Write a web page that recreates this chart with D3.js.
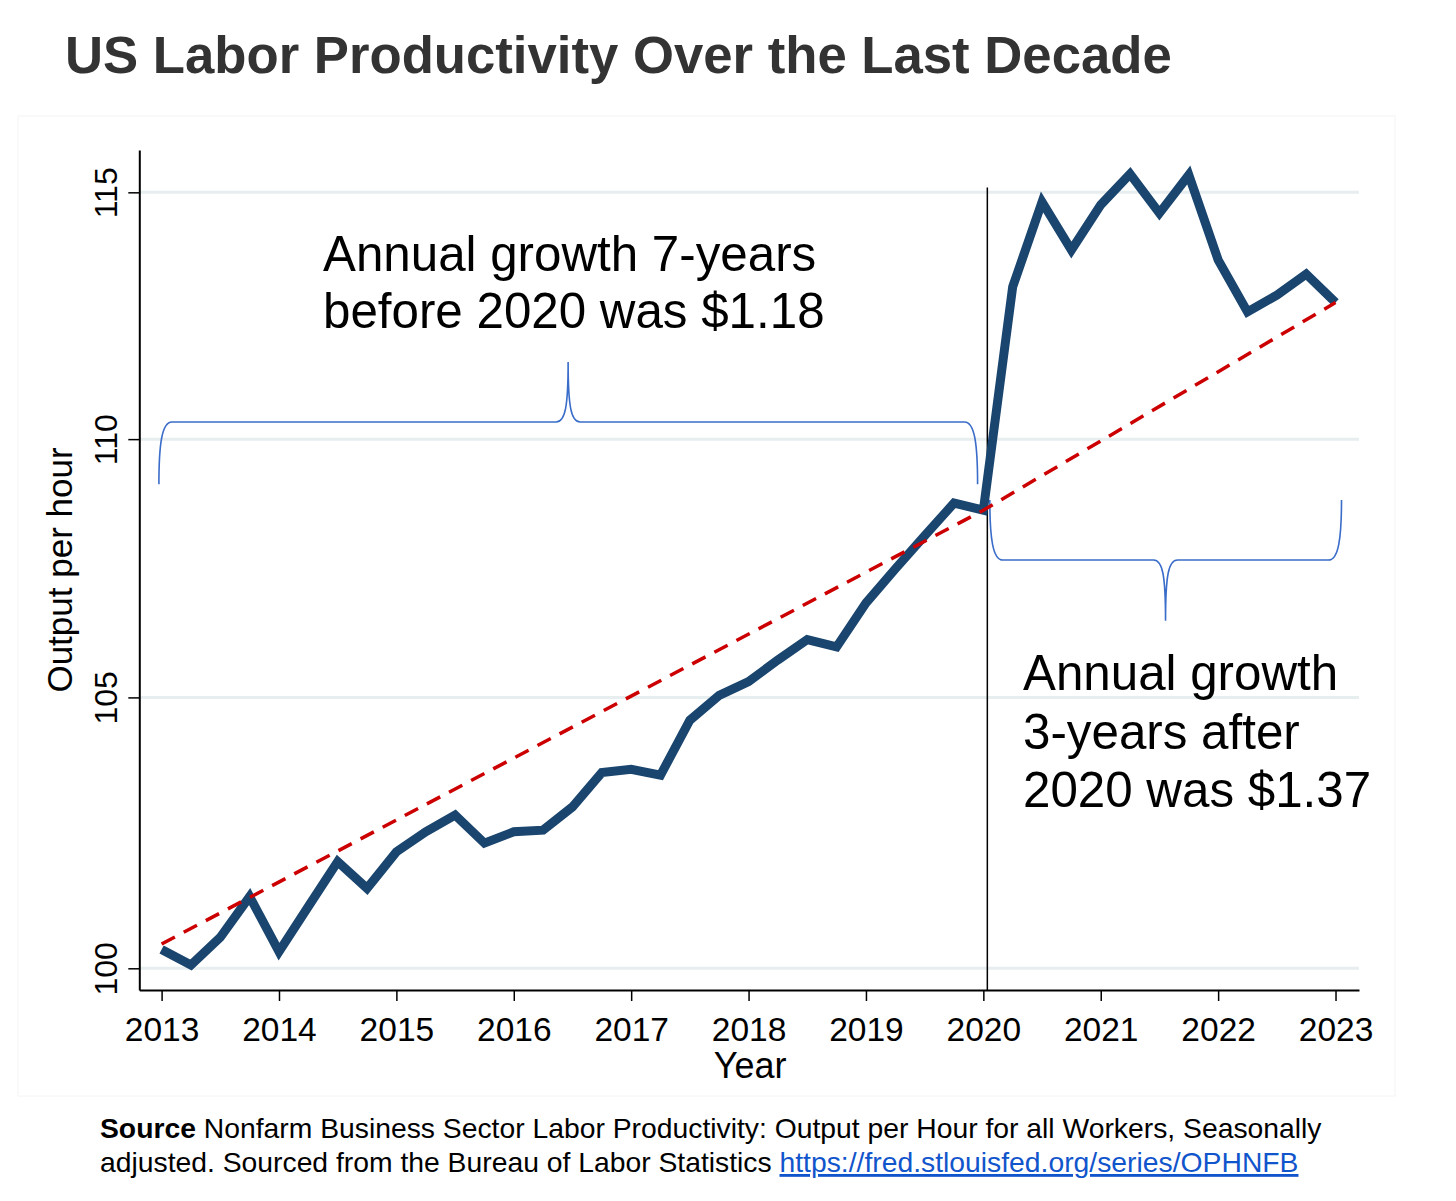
<!DOCTYPE html>
<html>
<head>
<meta charset="utf-8">
<script src="https://cdn.jsdelivr.net/npm/d3@7"></script>
<style>
  body { margin: 0; background: #fff; }
  svg { display: block; font-family: Arial, "Liberation Sans", sans-serif; }
</style>
</head>
<body>
<div id="chart"></div>
<script>
// quarterly output per hour, 2013 Q1 .. 2023 Q1
var quarters = d3.range(41).map(function(i) { return 2013 + i * 0.25 })
var productivity = [
  100.34, 100.06, 100.56, 101.30,
  100.30, 101.12, 101.94, 101.45,
  102.12, 102.49, 102.80, 102.28,
  102.49, 102.52, 102.95, 103.59,
  103.65, 103.54, 104.57, 105.04,
  105.30, 105.71, 106.10, 105.96,
  106.80, 107.46, 108.10, 108.74,
  108.60, 113.06, 114.80, 113.81,
  114.74, 115.38, 114.57, 115.36,
  113.61, 112.55, 112.89, 113.32,
  112.74
]
// trend segments drawn between 2013, 2020 and 2023
var trendYears = [2013, 2020, 2023]
var trendValues = [100.44, 108.60, 112.74]

var yearTicks = d3.range(2013, 2024)
var valueTicks = [100, 105, 110, 115]

var width = 1456, height = 1201

var svg = d3.select('#chart').append('svg')
  .attr('width', width)
  .attr('height', height)

// faint graph region border
svg.append('rect')
  .attr('x', 18).attr('y', 116)
  .attr('width', 1377).attr('height', 980)
  .attr('fill', 'none')
  .attr('stroke', '#f4f4f4')
  .attr('stroke-width', 1)

// SCALES (log y)
var x = d3.scaleLinear().domain([2012.81, 2023.2]).range([139.3, 1359])
var y = d3.scaleLog().domain([99.61, 115.88]).range([990, 150])

// TITLE
svg.append('text')
  .attr('x', 65).attr('y', 73)
  .attr('font-size', 52.7)
  .attr('font-weight', 'bold')
  .attr('fill', '#333333')
  .text('US Labor Productivity Over the Last Decade')

// GRIDLINES
svg.append('g')
  .selectAll('line')
  .data(valueTicks)
  .enter().append('line')
  .attr('x1', x.range()[0]).attr('x2', x.range()[1])
  .attr('y1', function(d) { return y(d) })
  .attr('y2', function(d) { return y(d) })
  .attr('stroke', '#e6eef0')
  .attr('stroke-width', 3)

// X-AXIS
var xAxis = svg.append('g')
  .attr('transform', 'translate(0,990)')
  .call(d3.axisBottom(x).tickValues(yearTicks).tickFormat(d3.format('d')).tickSize(11).tickSizeOuter(0))
xAxis.select('.domain').attr('stroke', '#000').attr('stroke-width', 2)
xAxis.selectAll('.tick line').attr('stroke', '#000').attr('stroke-width', 1.5)
xAxis.selectAll('.tick text')
  .attr('font-size', 33.5)
  .attr('font-family', 'Arial, "Liberation Sans", sans-serif')
  .attr('fill', '#000')
  .attr('dy', '0.71em')
  .attr('y', 27)

// Y-AXIS
var yAxis = svg.append('g')
  .attr('transform', 'translate(139.3,0)')
  .call(d3.axisLeft(y).tickValues(valueTicks).tickFormat(d3.format('d')).tickSize(11).tickSizeOuter(0))
yAxis.select('.domain').attr('stroke', '#000').attr('stroke-width', 2)
yAxis.selectAll('.tick line').attr('stroke', '#000').attr('stroke-width', 1.5)
yAxis.selectAll('.tick text')
  .attr('font-size', 32)
  .attr('font-family', 'Arial, "Liberation Sans", sans-serif')
  .attr('fill', '#000')
  .attr('x', null).attr('dy', null)
  .attr('text-anchor', 'middle')
  .attr('transform', 'translate(-22,0) rotate(-90)')

// AXIS TITLES
svg.append('text')
  .attr('x', (x.range()[0] + x.range()[1]) / 2 + 1)
  .attr('y', 1078)
  .attr('text-anchor', 'middle')
  .attr('font-size', 36)
  .text('Year')

svg.append('text')
  .attr('transform', 'translate(72,570) rotate(-90)')
  .attr('text-anchor', 'middle')
  .attr('font-size', 35)
  .text('Output per hour')

// VERTICAL 2020 MARKER
svg.append('line')
  .attr('x1', x(2020.034)).attr('x2', x(2020.034))
  .attr('y1', y(115.1)).attr('y2', 990)
  .attr('stroke', '#000')
  .attr('stroke-width', 1.5)

// BRACES
function brace(x0, x1, xt, yb, ye, yt) {
  var dir = yt < yb ? -1 : 1
  var p = d3.path()
  p.moveTo(x0, ye)
  p.bezierCurveTo(x0, yb - dir * 22, x0 + 3, yb, x0 + 13, yb)
  p.lineTo(xt - 12, yb)
  p.bezierCurveTo(xt - 3, yb, xt, yb + dir * 15, xt, yt)
  p.bezierCurveTo(xt, yb + dir * 15, xt + 3, yb, xt + 12, yb)
  p.lineTo(x1 - 13, yb)
  p.bezierCurveTo(x1 - 3, yb, x1, yb - dir * 22, x1, ye)
  return p.toString()
}

svg.append('path')
  .attr('d', brace(x(2012.977), x(2019.951), x(2016.463), y(110.34), y(109.11), y(111.54)))
  .attr('fill', 'none')
  .attr('stroke', '#3a6cc9')
  .attr('stroke-width', 1.6)

svg.append('path')
  .attr('d', brace(x(2020.055), x(2023.051), x(2021.552), y(107.63), y(108.80), y(106.46)))
  .attr('fill', 'none')
  .attr('stroke', '#3a6cc9')
  .attr('stroke-width', 1.6)

// DATA LINE
var valueline = d3.line()
  .x(function(d, i) { return x(quarters[i]) })
  .y(function(d) { return y(d) })

svg.append('path')
  .datum(productivity)
  .attr('d', valueline)
  .attr('fill', 'none')
  .attr('stroke', '#1a456e')
  .attr('stroke-width', 9)
  .attr('stroke-linejoin', 'miter')

// TREND LINE
var trendline = d3.line()
  .x(function(d, i) { return x(trendYears[i]) })
  .y(function(d) { return y(d) })

svg.append('path')
  .datum(trendValues)
  .attr('d', trendline)
  .attr('fill', 'none')
  .attr('stroke', '#cc0000')
  .attr('stroke-width', 3.5)
  .attr('stroke-dasharray', '15,10')

// ANNOTATIONS
var note1 = svg.append('text')
  .attr('font-size', 49.3)
  .attr('fill', '#000')
note1.append('tspan').attr('x', 323).attr('y', 271).text('Annual growth 7-years')
note1.append('tspan').attr('x', 323).attr('y', 328).text('before 2020 was $1.18')

var note2 = svg.append('text')
  .attr('font-size', 49.3)
  .attr('fill', '#000')
note2.append('tspan').attr('x', 1023).attr('y', 690).text('Annual growth')
note2.append('tspan').attr('x', 1023).attr('y', 749).text('3-years after')
note2.append('tspan').attr('x', 1023).attr('y', 807).text('2020 was $1.37')

// SOURCE
var src = svg.append('text')
  .attr('font-size', 28.3)
  .attr('fill', '#000')
var l1 = src.append('tspan').attr('x', 100).attr('y', 1138)
l1.append('tspan').attr('font-weight', 'bold').text('Source')
l1.append('tspan').text(' Nonfarm Business Sector Labor Productivity: Output per Hour for all Workers, Seasonally')
var l2 = src.append('tspan').attr('x', 100).attr('y', 1172)
l2.append('tspan').text('adjusted. Sourced from the Bureau of Labor Statistics ')
l2.append('tspan')
  .attr('fill', '#1155cc')
  .attr('text-decoration', 'underline')
  .text('https://fred.stlouisfed.org/series/OPHNFB')
</script>
</body>
</html>
